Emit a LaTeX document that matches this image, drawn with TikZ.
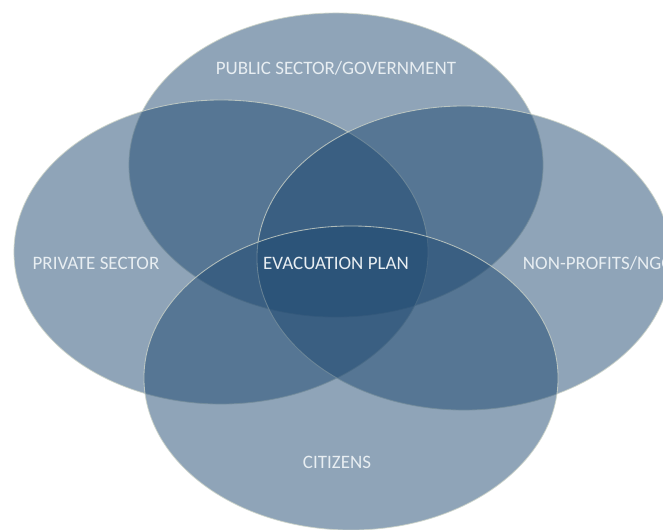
\documentclass[tikz,border=0pt]{standalone}
\usepackage{fontspec}
\setmainfont{Carlito}
\definecolor{vennblue}{RGB}{31,73,113}
\definecolor{venntext}{RGB}{232,238,242}
\definecolor{vennline}{RGB}{205,212,200}

\begin{document}
\begin{tikzpicture}[x=0.025cm,y=-0.025cm]

	\tikzset{set/.style={fill=vennblue,fill opacity=0.5,draw=vennline,draw opacity=0.8,line width=0.6pt},
		lbl/.style={text=venntext,font=\fontsize{13.5}{15}\selectfont}}

	\useasboundingbox (0,0) rectangle (663,529);

	\coordinate(pub) at (336,165);
	\coordinate(priv) at (221,252);
	\coordinate(ngo) at (464,258);
	\coordinate(cit) at (351,378);

	\draw[set] (pub) ellipse [x radius=5.175cm, y radius=3.8cm];
	\draw[set] (priv) ellipse [x radius=5.175cm, y radius=3.8cm];
	\draw[set] (ngo) ellipse [x radius=5.175cm, y radius=3.8cm];
	\draw[set] (cit) ellipse [x radius=5.175cm, y radius=3.8cm];

	\node[lbl] (pubtxt) at (336,68) {PUBLIC SECTOR/GOVERNMENT};
	\node[lbl] (privtxt) at (96,263) {PRIVATE SECTOR};
	\node[lbl,anchor=west] (ngotxt) at (518,263) {NON-PROFITS/NGOs};
	\node[lbl] (plantxt) at (336,263) {EVACUATION PLAN};
	\node[lbl] (cittxt) at (337,462) {CITIZENS};

\end{tikzpicture}
\end{document}
